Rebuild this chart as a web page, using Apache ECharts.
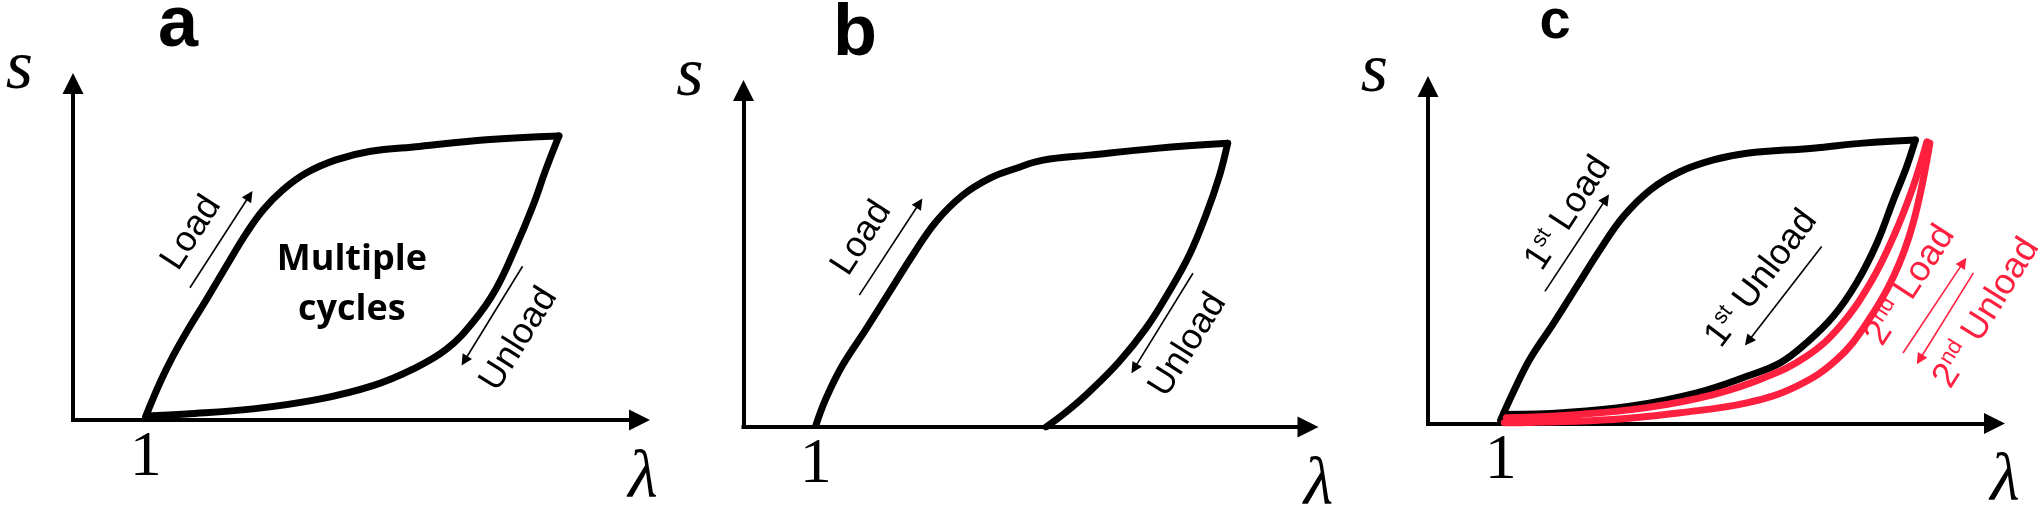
<!DOCTYPE html>
<html><head><meta charset="utf-8">
<script src="https://cdn.jsdelivr.net/npm/echarts@6/dist/echarts.min.js"></script>
<style>html,body{margin:0;padding:0;background:#fff}#c{width:2044px;height:508px}</style>
</head><body><div id="c"></div>
<script>
// ---------- data (arbitrary units: λ on x, s on y) ----------
const panelLetters = ['a', 'b', 'c'];
const xTickLabels = {1: '1'};          // only λ = 1 is labelled
const RED = '#ff1f3f';

// panel a : multiple cycles
const aLoadX   = [1.0, 1.20, 1.38, 1.56, 1.84, 2.11, 2.39, 2.62, 2.89, 3.21, 3.62, 4.08, 4.77, 5.69, 6.69];
const aLoadY   = [0.1, 1.12, 1.91, 2.60, 3.59, 4.57, 5.56, 6.25, 6.84, 7.34, 7.73, 7.98, 8.13, 8.33, 8.44];
const aUnloadX = [6.69, 6.51, 6.33, 6.10, 5.82, 5.50, 5.14, 4.68, 4.13, 3.39, 2.48, 1.56, 1.01];
const aUnloadY = [8.44, 7.44, 6.35, 5.16, 3.88, 2.89, 2.10, 1.51, 1.02, 0.62, 0.33, 0.18, 0.12];

// panel b : permanent set
const bLoadX   = [1.0, 1.14, 1.37, 1.70, 2.02, 2.34, 2.66, 3.03, 3.40, 3.77, 4.14, 4.78, 5.70, 6.69];
const bLoadY   = [0.05, 0.85, 1.84, 2.93, 4.02, 5.11, 6.10, 6.89, 7.39, 7.69, 7.93, 8.08, 8.28, 8.43];
const bUnloadX = [6.69, 6.58, 6.39, 6.16, 5.88, 5.56, 5.19, 4.78, 4.46, 4.18];
const bUnloadY = [8.43, 7.49, 6.30, 5.11, 4.02, 2.93, 1.94, 1.05, 0.45, 0.0];

// panel c : first and second cycle
const cLoadX    = [1.0, 1.17, 1.40, 1.73, 2.05, 2.37, 2.69, 3.06, 3.47, 3.93, 4.39, 5.30, 5.99, 6.71];
const cLoadY    = [0.1, 0.91, 1.90, 2.98, 4.07, 5.16, 6.14, 6.93, 7.47, 7.82, 8.02, 8.17, 8.32, 8.41];
const cUnloadX  = [6.71, 6.59, 6.41, 6.18, 5.90, 5.58, 5.21, 4.85, 4.39, 3.70, 2.78, 1.86, 1.08];
const cUnloadY  = [8.41, 7.62, 6.64, 5.35, 4.17, 3.18, 2.39, 1.80, 1.40, 0.91, 0.51, 0.32, 0.27];
const c2UnloadX = [1.08, 2.09, 3.01, 3.93, 4.62, 5.21, 5.67, 6.09, 6.41, 6.68, 6.87];
const c2UnloadY = [0.17, 0.27, 0.47, 0.86, 1.35, 1.99, 2.88, 4.17, 5.55, 7.03, 8.36];
const c2LoadX   = [1.05, 2.55, 3.47, 4.39, 5.08, 5.63, 6.04, 6.41, 6.68, 6.91];
const c2LoadY   = [0.02, 0.12, 0.32, 0.61, 1.11, 1.90, 2.98, 4.36, 5.95, 8.32];

// direction arrows: [x1, y1, x2, y2]
const aArrows = [[1.61, 3.93, 2.43, 6.67], [6.19, 4.57, 5.39, 1.76]];
const bArrows = [[1.60, 3.92, 2.43, 6.65], [6.21, 4.57, 5.40, 1.74]];
const cArrows = [[1.61, 3.92, 2.45, 6.66], [5.42, 5.25, 4.41, 2.44]];
const cRedArrows = [[6.54, 2.09, 7.37, 4.78], [7.51, 4.47, 6.77, 1.90]];

// annotations: [x, y, text, angle]
const aNotes = [[1.63, 5.56, 'Load', 57], [6.14, 2.40, 'Unload', 58]];
const aCenterNote = [3.84, 4.03, 'Multiple\ncycles'];
const bNotes = [[1.63, 5.61, 'Load', 57], [6.14, 2.44, 'Unload', 58]];
const cNotes = [[1.93, 6.24, '{n|1}{s|st}{n| Load}', 57], [4.59, 4.30, '{n|1}{s|st}{n| Unload}', 53]];
const cRedNotes = [[6.64, 4.10, '{n|2}{s|nd}{n| Load}', 57], [7.69, 3.28, '{n|2}{s|nd}{n| Unload}', 58]];

// ---------- layout ----------
const grids = [
  {left: 73, top: 83.5, width: 566.5, height: 336.5},
  {left: 743.5, top: 90.5, width: 564.5, height: 336.5},
  {left: 1428, top: 86.5, width: 566.5, height: 337}
];
const lambdaGap = [3.5, 10.5, 10.5];
const letterPos = [[178, 26, 72], [855, 35, 72], [1555, 23, 56]];

const SERIF = 'Liberation Serif';
const SANS = 'Liberation Sans';
const NOTE_SIZE = 36;
const axisLineStyle = {color: '#000', width: 4, cap: 'square'};

const xAxes = grids.map((g, i) => ({
  gridIndex: i, type: 'value', min: 0, max: 7.8, interval: 1,
  axisLine: {show: true, onZero: false, symbol: ['none', 'triangle'], symbolSize: [21, 21], lineStyle: axisLineStyle},
  axisTick: {show: false}, splitLine: {show: false},
  axisLabel: {formatter: v => xTickLabels[v] || '', fontFamily: SERIF, fontSize: 64, color: '#000', margin: 6},
  name: 'λ', nameLocation: 'end', nameGap: lambdaGap[i],
  nameTextStyle: {fontFamily: SERIF, fontStyle: 'italic', fontSize: 68, color: '#000', align: 'center', verticalAlign: 'top', padding: [25, 0, 0, 0]}
}));
const yAxes = grids.map((g, i) => ({
  gridIndex: i, type: 'value', min: 0, max: 10,
  axisLine: {show: true, onZero: false, symbol: ['none', 'triangle'], symbolSize: [21, 21], lineStyle: axisLineStyle},
  axisTick: {show: false}, splitLine: {show: false}, axisLabel: {show: false},
  name: 's', nameLocation: 'end', nameGap: 13.6,
  nameTextStyle: {fontFamily: SERIF, fontStyle: 'italic', fontSize: 70, color: '#000', align: 'right', verticalAlign: 'middle', padding: [0, 40, 0, 0]}
}));

function curve(xs, ys, gi, color) {
  return {type: 'line', xAxisIndex: gi, yAxisIndex: gi, data: xs.map((x, k) => [x, ys[k]]),
    smooth: 0.4, symbol: 'none', silent: true, z: 3,
    lineStyle: {width: 7, color: color, cap: 'round', join: 'round'}};
}
function arrows(list, gi, color) {
  return {type: 'lines', coordinateSystem: 'cartesian2d', xAxisIndex: gi, yAxisIndex: gi, silent: true, z: 4,
    symbol: ['none', 'triangle'], symbolSize: [8, 11],
    lineStyle: {width: 1.6, color: color, opacity: 1, curveness: 0},
    data: list.map(a => ({coords: [[a[0], a[1]], [a[2], a[3]]]}))};
}
const hiddenPoint = {symbolSize: 1, itemStyle: {color: 'rgba(0,0,0,0)', opacity: 1}};
function notes(list, gi, color) {
  return Object.assign({type: 'scatter', xAxisIndex: gi, yAxisIndex: gi, silent: true, z: 5,
    data: list.map(n => ({value: [n[0], n[1]], label: {
      show: true, position: 'inside', rotate: n[3], formatter: n[2], opacity: 1,
      fontFamily: SANS, fontSize: NOTE_SIZE, color: color, textBorderWidth: 0,
      rich: {n: {fontFamily: SANS, fontSize: NOTE_SIZE, color: color, lineHeight: 40},
             s: {fontFamily: SANS, fontSize: 22, color: color, lineHeight: 40, verticalAlign: 'top', padding: [0, 0, 15, 0]}}
    }}))}, hiddenPoint);
}

const series = [
  curve(aLoadX, aLoadY, 0, '#000'), curve(aUnloadX, aUnloadY, 0, '#000'),
  curve(bLoadX, bLoadY, 1, '#000'), curve(bUnloadX, bUnloadY, 1, '#000'),
  curve(cLoadX, cLoadY, 2, '#000'), curve(cUnloadX, cUnloadY, 2, '#000'),
  curve(c2LoadX, c2LoadY, 2, RED), curve(c2UnloadX, c2UnloadY, 2, RED),
  arrows(aArrows, 0, '#000'), arrows(bArrows, 1, '#000'),
  arrows(cArrows, 2, '#000'), arrows(cRedArrows, 2, RED),
  notes(aNotes, 0, '#000'), notes(bNotes, 1, '#000'),
  notes(cNotes, 2, '#000'), notes(cRedNotes, 2, RED),
  Object.assign({type: 'scatter', xAxisIndex: 0, yAxisIndex: 0, silent: true, z: 5,
   data: [{value: [aCenterNote[0], aCenterNote[1]], label: {show: true, position: 'inside', formatter: aCenterNote[2], opacity: 1,
     fontFamily: 'Open Sans', fontWeight: 'bold', fontSize: 36, lineHeight: 50, color: '#000', textBorderWidth: 0}}]}, hiddenPoint)
];

const chart = echarts.init(document.getElementById('c'), null, {renderer: 'canvas'});
chart.setOption({
  animation: false,
  backgroundColor: '#fff',
  grid: grids.map(g => Object.assign({outerBoundsMode: 'none', containLabel: false}, g)),
  xAxis: xAxes, yAxis: yAxes,
  graphic: panelLetters.map((t, i) => ({type: 'text', x: letterPos[i][0], y: letterPos[i][1], silent: true,
    style: {text: t, font: 'bold ' + letterPos[i][2] + 'px "Liberation Sans"', fill: '#000', align: 'center', verticalAlign: 'middle'}})),
  series: series
});
</script></body></html>
